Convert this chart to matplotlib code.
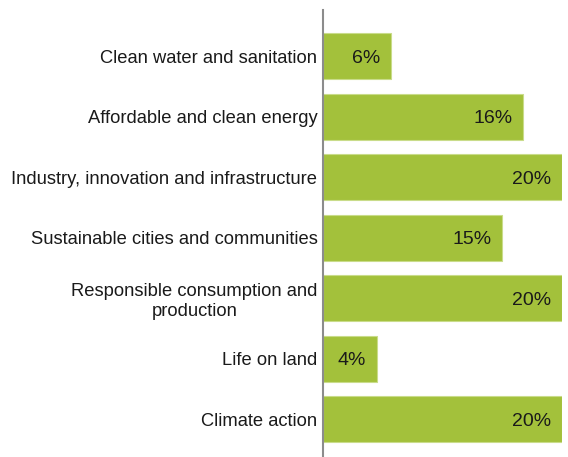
import matplotlib
matplotlib.use("Agg")
import matplotlib.pyplot as plt

categories = [
    "Clean water and sanitation",
    "Affordable and clean energy",
    "Industry, innovation and infrastructure",
    "Sustainable cities and communities",
    "Responsible consumption and\nproduction",
    "Life on land",
    "Climate action",
]
# bar lengths as drawn in the picture, and the printed labels
values = [5.7, 16.7, 20, 15.0, 20, 4.5, 20]
labels = ["6%", "16%", "20%", "15%", "20%", "4%", "20%"]

plt.rcParams['font.family'] = ['Liberation Sans', 'DejaVu Sans']

W, H = 568, 457
fig = plt.figure(figsize=(W / 100, H / 100), dpi=100)
left, right, top = 323 / W, 562 / W, 1 - 10 / H
ax = fig.add_axes([left, 0, right - left, top])

ys = list(range(len(categories)))
ax.barh(ys, values, height=0.76, color='#a3c13b', edgecolor='#c9dc8a', linewidth=0.8)
ax.set_xlim(0, 20)
ax.set_ylim(6.62, -0.76)

for y, v, lab in zip(ys, values, labels):
    ax.annotate(lab, (v, y), xytext=(-7.5, -1.5), textcoords='offset points',
                ha='right', va='center', fontsize=14, color='#1a1a1a')

ax.set_yticks(ys)
ax.set_yticklabels(categories, fontsize=13.2, color='#1a1a1a', multialignment='center')
ax.tick_params(axis='y', length=0, pad=4)
ax.set_xticks([])
for s in ['top', 'right', 'bottom']:
    ax.spines[s].set_visible(False)
ax.spines['left'].set_color('#8c8c8c')
ax.spines['left'].set_linewidth(1.5)

fig.savefig("out.png", dpi=100)
